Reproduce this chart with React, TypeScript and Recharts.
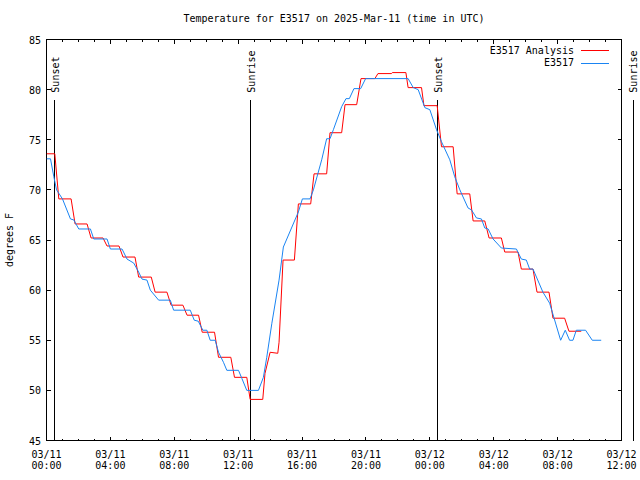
import React from 'react';
import { LineChart, Line, XAxis, YAxis, ReferenceLine, ReferenceArea } from 'recharts';

// ---- data (hours since 03/11 00:00 UTC, temperature in °F) ----
const analysisHours = [0, 0.52, 0.77, 1.54, 1.79, 2.54, 2.79, 3.54, 3.79, 4.54, 4.79, 5.54, 5.77, 6.56, 6.8, 7.54, 7.8, 8.54, 8.8, 9.52, 9.75, 10.52, 10.77, 11.54, 11.77, 12.54, 12.75, 13.54, 13.68, 14.0, 14.48, 14.56, 14.81, 15.52, 15.77, 16.54, 16.75, 17.54, 17.75, 18.48, 18.69, 19.42, 19.69, 20.56, 20.75, 21.6, 21.65, 22.5, 22.64, 23.48, 23.63, 24.46, 24.73, 25.46, 25.71, 26.5, 26.71, 27.44, 27.71, 28.48, 28.69, 29.52, 29.73, 30.46, 30.71, 31.46, 31.71, 32.44, 32.71, 33.48];
const analysisTemps = [73.6, 73.6, 69.1, 69.1, 66.6, 66.6, 65.2, 65.2, 64.4, 64.4, 63.3, 63.3, 61.3, 61.3, 59.8, 59.8, 58.5, 58.5, 57.5, 57.5, 55.8, 55.8, 53.3, 53.3, 51.3, 51.3, 49.1, 49.1, 51.7, 53.8, 53.7, 54.8, 63.0, 63.0, 68.6, 68.6, 71.6, 71.6, 75.7, 75.7, 78.5, 78.5, 81.1, 81.1, 81.6, 81.6, 81.7, 81.7, 80.2, 80.2, 78.4, 78.4, 74.3, 74.3, 69.6, 69.6, 66.9, 66.9, 65.2, 65.2, 63.8, 63.8, 62.1, 62.1, 59.8, 59.8, 57.2, 57.2, 55.9, 55.9];

const obsHours = [0, 0.25, 0.46, 0.63, 1.0, 1.5, 1.71, 2.02, 2.75, 2.96, 3.79, 4.0, 4.73, 5.04, 5.46, 5.77, 5.98, 6.29, 6.5, 7.02, 7.75, 7.96, 9.0, 9.25, 9.5, 9.79, 10.04, 10.25, 10.56, 10.77, 11.08, 11.29, 12.02, 12.23, 12.54, 13.27, 13.58, 13.79, 14.11, 14.56, 14.83, 15.77, 16.02, 16.5, 16.71, 17.23, 17.54, 17.75, 17.96, 18.48, 18.75, 18.96, 19.25, 19.67, 19.98, 22.64, 22.96, 23.27, 23.69, 24.0, 24.42, 24.73, 25.25, 25.56, 25.88, 26.39, 26.61, 26.92, 27.23, 27.44, 27.65, 27.96, 28.48, 29.42, 29.73, 30.04, 30.25, 30.46, 31.08, 31.5, 32.19, 32.48, 32.75, 32.96, 33.17, 33.75, 34.17, 34.73];
const obsTemps = [73.1, 73.1, 71.3, 70.0, 69.1, 67.1, 67.0, 66.1, 66.1, 65.1, 65.1, 64.1, 64.1, 63.1, 62.7, 61.8, 61.1, 61.0, 60.0, 59.0, 59.0, 58.0, 58.0, 57.0, 56.9, 56.0, 56.0, 55.0, 55.0, 53.8, 52.8, 52.0, 52.0, 51.2, 50.0, 50.0, 51.3, 53.3, 56.7, 61.0, 64.3, 67.8, 69.1, 69.1, 70.0, 73.0, 75.1, 75.1, 76.0, 78.3, 79.1, 79.1, 80.1, 80.1, 81.1, 81.1, 80.2, 80.0, 78.2, 78.0, 76.0, 74.8, 73.0, 71.3, 70.0, 68.2, 68.0, 67.2, 67.1, 66.2, 66.1, 65.1, 64.2, 64.1, 63.1, 63.0, 62.1, 62.1, 59.8, 58.7, 55.0, 56.0, 55.0, 55.0, 56.0, 56.0, 55.0, 55.0];

const sunHours = [0.5, 12.8, 24.47, 36.72];
const sunLabels = ['Sunset', 'Sunrise', 'Sunset', 'Sunrise'];

const xAllTicks = [0, 1, 2, 3, 4, 5, 6, 7, 8, 9, 10, 11, 12, 13, 14, 15, 16, 17, 18, 19, 20, 21, 22, 23, 24, 25, 26, 27, 28, 29, 30, 31, 32, 33, 34, 35, 36];
const xMajorHours = [0, 4, 8, 12, 16, 20, 24, 28, 32, 36];
const xTickDates = ['03/11', '03/11', '03/11', '03/11', '03/11', '03/11', '03/12', '03/12', '03/12', '03/12'];
const xTickTimes = ['00:00', '04:00', '08:00', '12:00', '16:00', '20:00', '00:00', '04:00', '08:00', '12:00'];
const yTicks = [45, 50, 55, 60, 65, 70, 75, 80, 85];

const seriesNames = ['E3517 Analysis', 'E3517'];
const seriesColors = ['#ff0000', '#1a84f2'];
const titleText = 'Temperature for E3517 on 2025-Mar-11 (time in UTC)';
const yLabelText = 'degrees F';

const analysisData = analysisHours.map((h, i) => ({ h, t: analysisTemps[i] }));
const obsData = obsHours.map((h, i) => ({ h, t: obsTemps[i] }));

// ---- layout ----
const W = 640;
const H = 480;
const M_TOP = 39.5;
const M_RIGHT = 18.5;
const M_LEFT = 0.5;
const Y_AXIS_W = 46;
const X_AXIS_H = 39.5;
const PLOT_LEFT = M_LEFT + Y_AXIS_W;
const PLOT_RIGHT = W - M_RIGHT;
const PLOT_TOP = M_TOP;
const PLOT_BOTTOM = H - X_AXIS_H;
const FONT = '"DejaVu Sans Mono", "Liberation Mono", monospace';
const FS = 10;

const XTick = (props: any) => {
  const { x, payload } = props;
  const idx = xMajorHours.indexOf(payload.value);
  const major = idx >= 0;
  const len = major ? 4 : 2;
  return (
    <g>
      <line x1={x} y1={PLOT_BOTTOM} x2={x} y2={PLOT_BOTTOM - len} stroke="#000" shapeRendering="crispEdges" />
      <line x1={x} y1={PLOT_TOP} x2={x} y2={PLOT_TOP + len} stroke="#000" shapeRendering="crispEdges" />
      {major && (
        <text x={x} y={458} textAnchor="middle" fontFamily={FONT} fontSize={FS} fill="#000">
          {xTickDates[idx]}
        </text>
      )}
      {major && (
        <text x={x} y={469} textAnchor="middle" fontFamily={FONT} fontSize={FS} fill="#000">
          {xTickTimes[idx]}
        </text>
      )}
    </g>
  );
};

const YTick = (props: any) => {
  const { y, payload } = props;
  return (
    <g>
      <line x1={PLOT_LEFT} y1={y} x2={PLOT_LEFT + 4} y2={y} stroke="#000" shapeRendering="crispEdges" />
      <line x1={PLOT_RIGHT} y1={y} x2={PLOT_RIGHT - 4} y2={y} stroke="#000" shapeRendering="crispEdges" />
      <text x={41} y={y + 4} textAnchor="end" fontFamily={FONT} fontSize={FS} fill="#000">
        {payload.value}
      </text>
    </g>
  );
};

const makeSunShape = (label: string) => (p: any) => {
  const x = p.x1;
  const yTop = Math.min(p.y1, p.y2);
  const yBot = Math.max(p.y1, p.y2);
  const tx = x + 4.5;
  const ty = yTop - 7;
  return (
    <g>
      <line x1={x} y1={yTop} x2={x} y2={yBot} stroke="#000" strokeWidth={1} shapeRendering="crispEdges" />
      <text x={tx} y={ty} transform={`rotate(-90, ${tx}, ${ty})`} textAnchor="start" fontFamily={FONT} fontSize={FS} fill="#000">
        {label}
      </text>
    </g>
  );
};

export default function App() {
  return (
    <div style={{ position: 'absolute', left: 0, top: 0, width: W, height: H, background: '#fff' }}>
      <LineChart width={W} height={H} margin={{ top: M_TOP, right: M_RIGHT, bottom: 0, left: M_LEFT }}>
        <XAxis
          type="number"
          dataKey="h"
          domain={[0, 36]}
          ticks={xAllTicks}
          interval={0}
          allowDataOverflow
          height={X_AXIS_H}
          axisLine={false}
          tickLine={false}
          tickSize={0}
          tickMargin={0}
          tick={<XTick />}
        />
        <YAxis
          type="number"
          domain={[45, 85]}
          ticks={yTicks}
          interval={0}
          allowDataOverflow
          width={Y_AXIS_W}
          axisLine={false}
          tickLine={false}
          tickSize={0}
          tickMargin={0}
          tick={<YTick />}
        />
        <ReferenceArea x1={0} x2={36} y1={45} y2={85} fill="none" fillOpacity={0} stroke="#000" strokeWidth={1} shapeRendering="crispEdges" ifOverflow="visible" />
        {sunHours.map((h, i) => (
          <ReferenceLine
            key={'sun' + i}
            segment={[{ x: h, y: 45 }, { x: h, y: 79 }]}
            ifOverflow="visible"
            stroke="#000"
            shape={makeSunShape(sunLabels[i])}
          />
        ))}
        <Line
          data={analysisData}
          dataKey="t"
          name={seriesNames[0]}
          type="linear"
          stroke={seriesColors[0]}
          strokeWidth={1}
          dot={false}
          activeDot={false}
          isAnimationActive={false}
        />
        <Line
          data={obsData}
          dataKey="t"
          name={seriesNames[1]}
          type="linear"
          stroke={seriesColors[1]}
          strokeWidth={1}
          dot={false}
          activeDot={false}
          isAnimationActive={false}
        />
      </LineChart>
      <svg width={W} height={H} style={{ position: 'absolute', left: 0, top: 0, pointerEvents: 'none' }}>
        <text x={(PLOT_LEFT + PLOT_RIGHT) / 2} y={22} textAnchor="middle" fontFamily={FONT} fontSize={FS} fill="#000">
          {titleText}
        </text>
        <text x={13} y={240} transform="rotate(-90, 13, 240)" textAnchor="middle" fontFamily={FONT} fontSize={FS} fill="#000">
          {yLabelText}
        </text>
        {seriesNames.map((n, i) => (
          <g key={n}>
            <text x={574} y={53.5 + i * 12.5} textAnchor="end" fontFamily={FONT} fontSize={FS} fill="#000">
              {n}
            </text>
            <line x1={581} x2={609} y1={50.5 + i * 12.5} y2={50.5 + i * 12.5} stroke={seriesColors[i]} strokeWidth={1} shapeRendering="crispEdges" />
          </g>
        ))}
      </svg>
    </div>
  );
}
